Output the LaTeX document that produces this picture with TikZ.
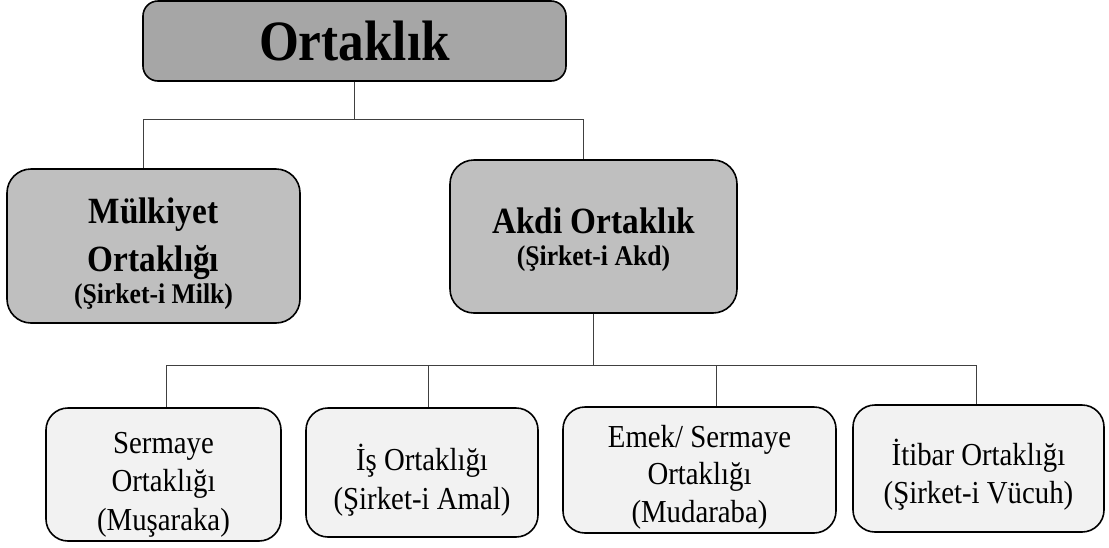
\documentclass[tikz,border=0pt]{standalone}
\usepackage{fontspec}
\setmainfont{Liberation Serif}
\newfontfamily\dar[FakeStretch=0.9]{Liberation Serif}
\newcommand\bosluk[1]{\rule{0pt}{#1}}

\begin{document}
\begin{tikzpicture}[x=1pt,y=-1pt,
    kutu/.style={draw=black,line width=1.6pt,align=center,inner sep=0pt},
    ust/.style={kutu,fill=gray!70,rounded corners=15pt},
    orta/.style={kutu,fill=gray!50,rounded corners=24pt},
    alt/.style={kutu,fill=gray!10,rounded corners=22pt,
      font=\dar\fontsize{32}{37}\selectfont},
    bag/.style={draw=black!75,line width=0.9pt},
  ]
  \useasboundingbox (0,0) rectangle (1109,547);

  \node[ust,minimum width=423pt,minimum height=80pt,
    font=\dar\fontsize{57}{60}\selectfont\bfseries] (ortaklik) at (354.5,41) {Ortaklık};

  \node[orta,minimum width=293pt,minimum height=154pt,
    font=\dar\fontsize{37}{42}\selectfont\bfseries] (mulkiyet) at (153.5,246)
    {\bosluk{41pt}Mülkiyet\\[6pt]Ortaklığı\\[-10pt]{\fontsize{28.5}{34}\selectfont (Şirket-i Milk)}};
  \node[orta,minimum width=287pt,minimum height=153pt,
    font=\dar\fontsize{37}{42}\selectfont\bfseries] (akdi) at (593.5,236.5)
    {\bosluk{33pt}Akdi Ortaklık\\[-10pt]{\fontsize{28.5}{34}\selectfont (Şirket-i Akd)}};

  \node[alt,minimum width=235pt,minimum height=133pt] (sermaye) at (163.5,474.5)
    {\bosluk{42pt}Sermaye\\[1pt]Ortaklığı\\[2pt](Muşaraka)};
  \node[alt,minimum width=232pt,minimum height=129pt] (is) at (422,472.5)
    {\bosluk{42pt}İş Ortaklığı\\[2pt](Şirket-i Amal)};
  \node[alt,minimum width=273pt,minimum height=126pt] (emek) at (699.5,470)
    {\bosluk{36pt}Emek/ Sermaye\\Ortaklığı\\[1pt](Mudaraba)};
  \node[alt,minimum width=251pt,minimum height=127pt] (itibar) at (978.5,468.5)
    {\bosluk{38pt}İtibar Ortaklığı\\[1pt](Şirket-i Vücuh)};

  \coordinate (hatA1) at (143,119);
  \coordinate (hatA2) at (583,119);
  \coordinate (hatB1) at (166,365);
  \coordinate (hatB2) at (976,365);

  \draw[bag] (hatA1) -- (hatA2);
  \draw[bag] (ortaklik.south) -- (ortaklik.south |- hatA1);
  \draw[bag] (hatA1) -- (hatA1 |- mulkiyet.north);
  \draw[bag] (hatA2) -- (hatA2 |- akdi.north);

  \draw[bag] (hatB1) -- (hatB2);
  \draw[bag] (akdi.south) -- (akdi.south |- hatB1);
  \draw[bag] (hatB1) -- (hatB1 |- sermaye.north);
  \draw[bag] (428,365) -- (428,365 |- is.north);
  \draw[bag] (716,365) -- (716,365 |- emek.north);
  \draw[bag] (hatB2) -- (hatB2 |- itibar.north);
\end{tikzpicture}
\end{document}
